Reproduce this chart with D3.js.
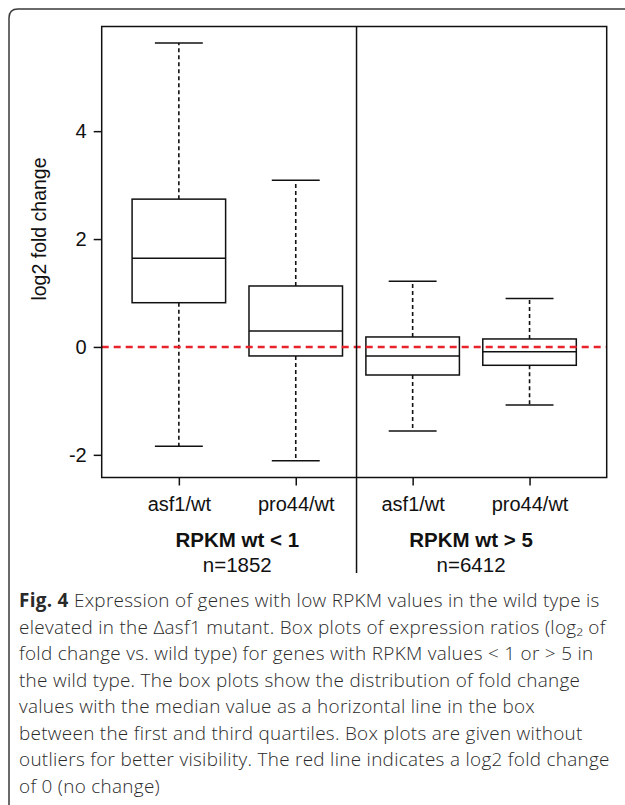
<!DOCTYPE html>
<html>
<head>
<meta charset="utf-8">
<script src="https://cdn.jsdelivr.net/npm/d3@7"></script>
<style>
  html, body { margin: 0; padding: 0; background: #fff; }
  svg { display: block; }
</style>
</head>
<body>
<script>
// ---- data ----
const categories = ["asf1/wt", "pro44/wt", "asf1/wt", "pro44/wt"];
const groupLabels = ["RPKM wt < 1", "RPKM wt > 5"];
const groupCounts = ["n=1852", "n=6412"];
const whiskerLow  = [-1.84, -2.11, -1.556, -1.074];
const quartile1   = [0.82, -0.167, -0.52, -0.34];
const medians     = [1.643, 0.296, -0.17, -0.087];
const quartile3   = [2.74, 1.13, 0.185, 0.148];
const whiskerHigh = [5.635, 3.09, 1.22, 0.90];
const yTicks = [-2, 0, 2, 4];
const yLabel = "log2 fold change";
const referenceValue = 0;
const captionLines = [
  [{t: "Fig. 4", b: true}, {t: " Expression of genes with low RPKM values in the wild type is"}],
  [{t: "elevated in the \u0394asf1 mutant. Box plots of expression ratios (log\u2082 of"}],
  [{t: "fold change vs. wild type) for genes with RPKM values < 1 or > 5 in"}],
  [{t: "the wild type. The box plots show the distribution of fold change"}],
  [{t: "values with the median value as a horizontal line in the box"}],
  [{t: "between the first and third quartiles. Box plots are given without"}],
  [{t: "outliers for better visibility. The red line indicates a log2 fold change"}],
  [{t: "of 0 (no change)"}]
];

const W = 625, H = 805;
const svg = d3.select("body").append("svg").attr("width", W).attr("height", H);

// outer rounded frame (clipped by page)
const r = 9;
svg.append("path")
  .attr("d", `M9,${H + 5} L9,${9 + r} Q9,9 ${9 + r},9 L${W + 5},9`)
  .attr("fill", "none").attr("stroke", "#3a3a3a").attr("stroke-width", 1.5);

const plot = {left: 101.7, right: 606.7, top: 26.5, bottom: 477.5};
const x = d3.scaleLinear().domain([0.34, 4.66]).range([plot.left, plot.right]);
const y = d3.scaleLinear().domain([-2.42, 5.94]).range([plot.bottom, plot.top]);

const axisFont = "'Liberation Sans', Arial, Helvetica, sans-serif";
const ink = "#111";

const data = categories.map((c, i) => ({
  pos: i + 1, cat: c,
  lo: whiskerLow[i], q1: quartile1[i], med: medians[i], q3: quartile3[i], hi: whiskerHigh[i]
}));

const boxW = 0.8, capW = 0.41;

const g = svg.append("g");
const boxes = g.selectAll("g.box").data(data).enter().append("g").attr("class", "box");

// whiskers
boxes.append("line")
  .attr("x1", d => x(d.pos)).attr("x2", d => x(d.pos))
  .attr("y1", d => y(d.q3)).attr("y2", d => y(d.hi))
  .attr("stroke", ink).attr("stroke-width", 1.6).attr("stroke-dasharray", "4,3");
boxes.append("line")
  .attr("x1", d => x(d.pos)).attr("x2", d => x(d.pos))
  .attr("y1", d => y(d.q1)).attr("y2", d => y(d.lo))
  .attr("stroke", ink).attr("stroke-width", 1.6).attr("stroke-dasharray", "4,3");
// caps
["hi", "lo"].forEach(k => {
  boxes.append("line")
    .attr("x1", d => x(d.pos - capW / 2)).attr("x2", d => x(d.pos + capW / 2))
    .attr("y1", d => y(d[k])).attr("y2", d => y(d[k]))
    .attr("stroke", ink).attr("stroke-width", 1.5);
});
// boxes
boxes.append("rect")
  .attr("x", d => x(d.pos - boxW / 2)).attr("width", d => x(d.pos + boxW / 2) - x(d.pos - boxW / 2))
  .attr("y", d => y(d.q3)).attr("height", d => y(d.q1) - y(d.q3))
  .attr("fill", "#fff").attr("stroke", ink).attr("stroke-width", 1.5);
boxes.append("line")
  .attr("x1", d => x(d.pos - boxW / 2)).attr("x2", d => x(d.pos + boxW / 2))
  .attr("y1", d => y(d.med)).attr("y2", d => y(d.med))
  .attr("stroke", ink).attr("stroke-width", 1.5);

// reference line
svg.append("line")
  .attr("x1", plot.left).attr("x2", plot.right)
  .attr("y1", y(referenceValue)).attr("y2", y(referenceValue))
  .attr("stroke", "#e8232b").attr("stroke-width", 2.6).attr("stroke-dasharray", "7,5");

// plot frame
svg.append("rect")
  .attr("x", plot.left).attr("y", plot.top)
  .attr("width", plot.right - plot.left).attr("height", plot.bottom - plot.top)
  .attr("fill", "none").attr("stroke", ink).attr("stroke-width", 1.5);

// divider
svg.append("line")
  .attr("x1", x(2.52)).attr("x2", x(2.52))
  .attr("y1", plot.top).attr("y2", 573)
  .attr("stroke", ink).attr("stroke-width", 1.5);

// y axis
const yAxis = svg.append("g").attr("transform", `translate(${plot.left},0)`)
  .call(d3.axisLeft(y).tickValues(yTicks).tickSize(8).tickPadding(7).tickFormat(d3.format("d")));
yAxis.select(".domain").remove();
yAxis.selectAll("line").attr("stroke", ink).attr("stroke-width", 1.5);
yAxis.selectAll("text").attr("font-family", axisFont).attr("font-size", 20).attr("fill", ink)
  .text(d => d < 0 ? "-" + Math.abs(d) : d);

// x axis
const xAxis = svg.append("g").attr("transform", `translate(0,${plot.bottom})`)
  .call(d3.axisBottom(x).tickValues(data.map(d => d.pos)).tickSize(8).tickPadding(11)
    .tickFormat((d, i) => categories[i]));
xAxis.select(".domain").remove();
xAxis.selectAll("line").attr("stroke", ink).attr("stroke-width", 1.5);
xAxis.selectAll("text").attr("font-family", axisFont).attr("font-size", 20).attr("fill", ink);

// group labels
const groupPos = [1.5, 3.5];
svg.selectAll("text.grp").data(groupLabels).enter().append("text")
  .attr("class", "grp")
  .attr("x", (d, i) => x(groupPos[i])).attr("y", 547)
  .attr("text-anchor", "middle").attr("font-family", axisFont).attr("font-weight", "bold")
  .attr("font-size", 20.5).attr("fill", ink).text(d => d);
svg.selectAll("text.cnt").data(groupCounts).enter().append("text")
  .attr("class", "cnt")
  .attr("x", (d, i) => x(groupPos[i])).attr("y", 571.5)
  .attr("text-anchor", "middle").attr("font-family", axisFont)
  .attr("font-size", 20.5).attr("fill", ink).text(d => d);

// y label
svg.append("text")
  .attr("transform", `translate(46,229) rotate(-90)`)
  .attr("text-anchor", "middle").attr("font-family", axisFont)
  .attr("font-size", 19.5).attr("fill", ink).text(yLabel);

// caption
const cap = svg.append("g");
captionLines.forEach((line, i) => {
  const t = cap.append("text")
    .attr("x", 19).attr("y", 607 + i * 26.5)
    .attr("font-family", "'Open Sans', 'Noto Sans', sans-serif")
    .attr("font-weight", 300)
    .attr("letter-spacing", 0.3)
    .attr("font-size", 18.9).attr("fill", "#2a2a2a");
  line.forEach(seg => {
    const ts = t.append("tspan").text(seg.t);
    if (seg.b) ts.attr("font-weight", "bold");
  });
});
</script>
</body>
</html>
